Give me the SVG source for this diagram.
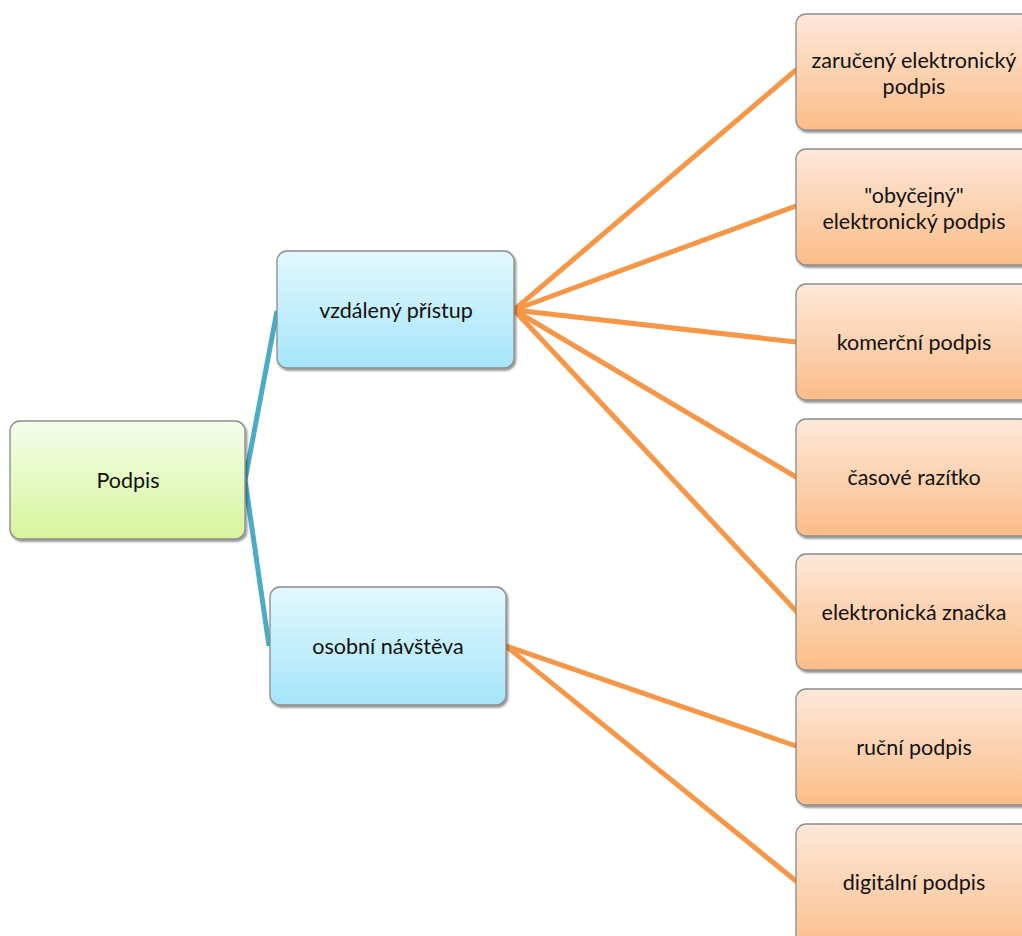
<svg xmlns="http://www.w3.org/2000/svg" width="1022" height="936" viewBox="0 0 1022 936">
<defs>
<linearGradient id="gG" x1="0" y1="0" x2="0" y2="1"><stop offset="0" stop-color="#f5fdea"/><stop offset="1" stop-color="#d6f59c"/></linearGradient>
<linearGradient id="gB" x1="0" y1="0" x2="0" y2="1"><stop offset="0" stop-color="#e2f8fd"/><stop offset="1" stop-color="#a6e5fa"/></linearGradient>
<linearGradient id="gO" x1="0" y1="0" x2="0" y2="1"><stop offset="0" stop-color="#fde8da"/><stop offset="1" stop-color="#fbbd88"/></linearGradient>
<filter id="sh" x="-10%" y="-10%" width="130%" height="130%"><feDropShadow dx="1.5" dy="2" stdDeviation="1.2" flood-color="#000" flood-opacity="0.45"/></filter>
</defs>
<style>
.box{stroke:#8c8c8c;stroke-width:1.3;filter:url(#sh)}
.g{fill:url(#gG)}.b{fill:url(#gB)}.o{fill:url(#gO)}
text{font-family:Lato,"Open Sans","Liberation Sans",sans-serif;font-size:21.5px;fill:#111;text-anchor:middle;dominant-baseline:central}
.teal{stroke:#4aacc6;stroke-width:5;fill:none;stroke-linejoin:round}
.orng{stroke:#f79646;stroke-width:5;fill:none;stroke-linecap:round}
</style>
<rect width="1022" height="936" fill="#fff"/>
<g id="connectors">
<polyline class="teal" points="277,311 245,480 269,646"/>
<line class="orng" x1="514" y1="310" x2="796" y2="70"/>
<line class="orng" x1="514" y1="310" x2="796" y2="206"/>
<line class="orng" x1="514" y1="310" x2="796" y2="342"/>
<line class="orng" x1="514" y1="310" x2="796" y2="477"/>
<line class="orng" x1="514" y1="310" x2="796" y2="611"/>
<line class="orng" x1="506" y1="646" x2="796" y2="746"/>
<line class="orng" x1="506" y1="646" x2="796" y2="881"/>
</g>
<g id="n-podpis"><rect class="box g" x="10" y="421" width="235" height="118" rx="10"/><text x="128" y="480">Podpis</text></g>
<g id="n-vzdaleny"><rect class="box b" x="277" y="251" width="237" height="117" rx="10"/><text x="396" y="310">vzdálený přístup</text></g>
<g id="n-osobni"><rect class="box b" x="270" y="587" width="236" height="118" rx="10"/><text x="388" y="646">osobní návštěva</text></g>
<g id="n-zaruceny"><rect class="box o" x="796" y="14" width="240" height="116" rx="10"/><text x="914" y="60">zaručený elektronický</text><text x="914" y="86">podpis</text></g>
<g id="n-obycejny"><rect class="box o" x="796" y="149" width="240" height="116" rx="10"/><text x="914" y="195">"obyčejný"</text><text x="914" y="221">elektronický podpis</text></g>
<g id="n-komercni"><rect class="box o" x="796" y="284" width="240" height="116" rx="10"/><text x="914" y="342">komerční podpis</text></g>
<g id="n-casove"><rect class="box o" x="796" y="419" width="240" height="117" rx="10"/><text x="914" y="477">časové razítko</text></g>
<g id="n-znacka"><rect class="box o" x="796" y="554" width="240" height="116" rx="10"/><text x="914" y="612">elektronická značka</text></g>
<g id="n-rucni"><rect class="box o" x="796" y="689" width="240" height="116" rx="10"/><text x="914" y="747">ruční podpis</text></g>
<g id="n-digitalni"><rect class="box o" x="796" y="824" width="240" height="130" rx="10"/><text x="914" y="882">digitální podpis</text></g>
</svg>
